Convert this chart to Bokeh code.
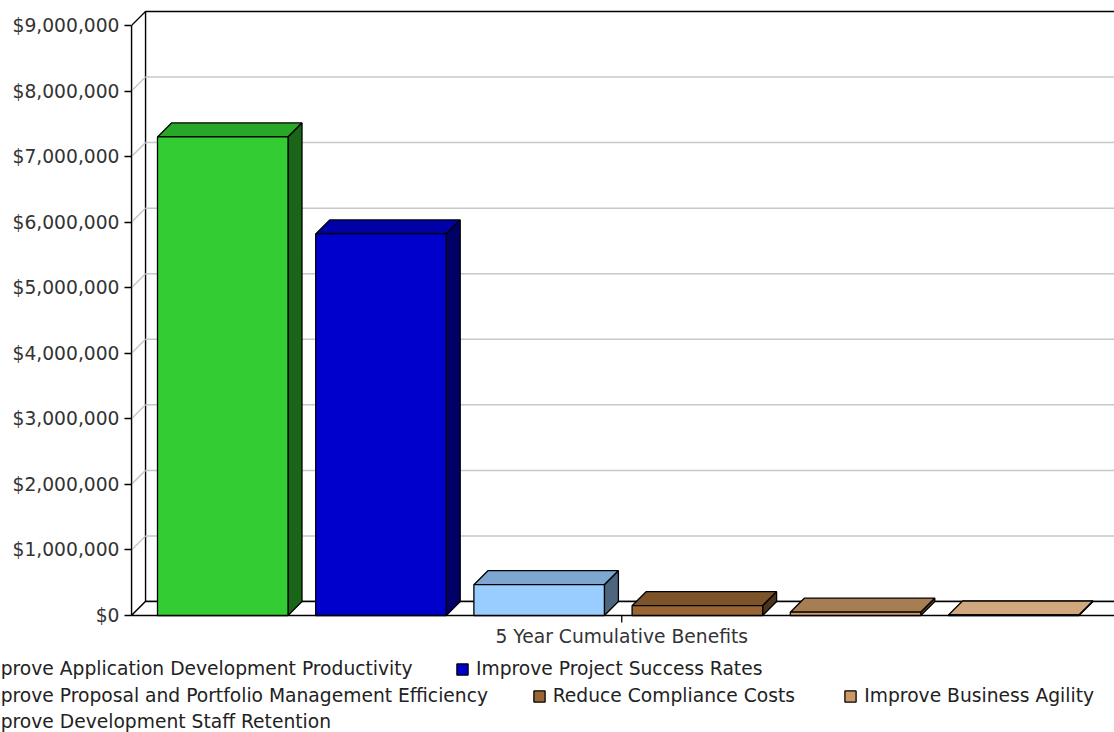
from bokeh.plotting import figure
from bokeh.layouts import column
from bokeh.models import (ColumnDataSource, Range1d, FixedTicker, NumeralTickFormatter,
                          Legend, LegendItem)
from bokeh.core.properties import value
from bokeh.embed import file_html
from bokeh.resources import INLINE

# ---------------- data ----------------
series = [
    "Improve Application Development Productivity",
    "Improve Project Success Rates",
    "Improve Proposal and Portfolio Management Efficiency",
    "Reduce Compliance Costs",
    "Improve Business Agility",
    "Improve Development Staff Retention",
]
values = [7_300_000, 5_820_000, 470_000, 150_000, 50_000, 8_000]
colors = ["#33cc33", "#0000cc", "#99ccff", "#996633", "#cc9966", "#ffcc99"]
category = "5 Year Cumulative Benefits"
y_ticks = [0, 1_000_000, 2_000_000, 3_000_000, 4_000_000, 5_000_000,
           6_000_000, 7_000_000, 8_000_000, 9_000_000]

# ---------------- layout / geometry ----------------
W, H = 1114, 732
LEG_H = 78
CH = H - LEG_H          # chart figure height
LEFT = 131
FRAME_W = W - LEFT
PX_X = 158.2            # px per bar slot
BAR_W = 0.825           # bar width in slot units
X0_PX = 91.25           # centre of first bar from frame left
ZERO_PX = 615           # y pixel of $0
PX_Y = 590.0 / y_ticks[-1]   # px per dollar
DEPTH = 14              # 3D depth in px

x_start = -X0_PX / PX_X
x_end = x_start + FRAME_W / PX_X
y_end = ZERO_PX / PX_Y
y_start = -(CH - ZERO_PX) / PX_Y
dx = DEPTH / PX_X
dy = DEPTH / PX_Y
ymax = y_ticks[-1]
FONT = "DejaVu Sans"
FS = "18.7px"

p = figure(width=W, height=CH, x_range=Range1d(x_start, x_end),
           y_range=Range1d(y_start, y_end), output_backend="svg",
           toolbar_location=None, x_axis_location=None, y_axis_location="left",
           min_border_left=LEFT, min_border_right=0, min_border_top=0,
           min_border_bottom=0)
p.frame_align = False
p.outline_line_color = None
p.grid.visible = False
p.background_fill_color = "white"
p.border_fill_color = "white"

ax = p.yaxis[0]
ax.ticker = FixedTicker(ticks=y_ticks)
ax.bounds = (0, ymax)
ax.formatter = NumeralTickFormatter(format="$0,0")
ax.major_label_text_font = FONT
ax.major_label_text_font_size = FS
ax.major_label_text_color = "#333333"
ax.axis_line_color = "black"
ax.axis_line_width = 1.3
ax.major_tick_line_color = "black"
ax.major_tick_line_width = 1.3
ax.major_tick_out = 7
ax.major_tick_in = 0
ax.minor_tick_line_color = None
ax.major_label_standoff = 5

far_right = x_end + 1
# back wall
p.quad(left=[x_start + dx], right=[far_right], bottom=[dy], top=[ymax + dy],
       fill_color="white", line_color="black", line_width=1.3)
# left wall
p.patch([x_start, x_start + dx, x_start + dx, x_start], [0, dy, ymax + dy, ymax],
        fill_color="white", line_color="black", line_width=1.3)
# floor
p.patch([x_start, x_start + dx, far_right, far_right], [0, dy, dy, 0],
        fill_color="white", line_color="black", line_width=1.3)
# gridlines on back wall and left wall
inner = y_ticks[1:-1]
p.segment(x0=[x_start + dx] * len(inner), y0=[t + dy for t in inner],
          x1=[far_right] * len(inner), y1=[t + dy for t in inner],
          line_color="#c8c8c8", line_width=1.5)
p.segment(x0=[x_start] * len(inner), y0=inner,
          x1=[x_start + dx] * len(inner), y1=[t + dy for t in inner],
          line_color="#c8c8c8", line_width=1.5)


def shade(hexc, f):
    r, g, b = int(hexc[1:3], 16), int(hexc[3:5], 16), int(hexc[5:7], 16)
    return "#%02x%02x%02x" % (int(r * f), int(g * f), int(b * f))


xc = list(range(len(values)))
lefts = [i - BAR_W / 2 for i in xc]
rights = [i + BAR_W / 2 for i in xc]
src = ColumnDataSource(dict(left=lefts, right=rights, top=values,
                            bottom=[0] * len(values), color=colors))

top_xs = [[l, l + dx, r + dx, r] for l, r in zip(lefts, rights)]
top_ys = [[v, v + dy, v + dy, v] for v in values]
side_xs = [[r, r + dx, r + dx, r] for r in rights]
side_ys = [[0, dy, v + dy, v] for v in values]
p.patches(top_xs, top_ys, fill_color=[shade(c, 0.82) for c in colors],
          line_color="black", line_width=1.3)
p.patches(side_xs, side_ys, fill_color=[shade(c, 0.5) for c in colors],
          line_color="black", line_width=1.3)
p.quad(left="left", right="right", top="top", bottom="bottom",
       fill_color="color", line_color="black", line_width=1.3, source=src)

# category axis tick + label
cx = (xc[0] + xc[-1]) / 2 + dx / 4
p.segment(x0=[cx], y0=[0], x1=[cx], y1=[-7 / PX_Y], line_color="black", line_width=1.3)
p.text(x=[cx], y=[0], text=[category], text_align="center", text_baseline="middle",
       y_offset=21, text_font=value(FONT), text_font_size=FS, text_color="#333333")

# ---------------- legend strip (left edge cut off as in the reference) ----------------
q = figure(width=W, height=LEG_H, x_range=Range1d(100, 100 + W), y_range=Range1d(0, LEG_H),
           output_backend="svg", toolbar_location=None, x_axis_location=None,
           y_axis_location=None, min_border_left=0, min_border_right=0,
           min_border_top=0, min_border_bottom=0)
q.frame_align = False
q.outline_line_color = None
q.grid.visible = False
q.background_fill_color = "white"
q.border_fill_color = "white"
# legend swatches come from the same bar data (kept outside this strip's view)
swatch = q.quad(left="left", right="right", top="top", bottom="bottom",
                fill_color="color", line_color="black", line_width=1.3, source=src)

# flow-layout positions of each legend item (swatch left x, bottom y) in px
leg_pos = [(-44, 53), (455, 53), (-44, 26), (531.7, 26), (843.3, 26), (-44, 0)]
for i, (lx, ly) in enumerate(leg_pos):
    leg = Legend(items=[LegendItem(label=series[i], renderers=[swatch], index=i)],
                 location=(lx, ly), orientation="horizontal",
                 glyph_width=14, glyph_height=14, label_standoff=7,
                 padding=0, margin=0, spacing=0,
                 border_line_color=None, background_fill_alpha=0,
                 label_text_font=FONT, label_text_font_size=FS,
                 label_text_color="#222222")
    q.add_layout(leg)

open("out.html", "w").write(file_html(column(p, q, spacing=0), INLINE))
